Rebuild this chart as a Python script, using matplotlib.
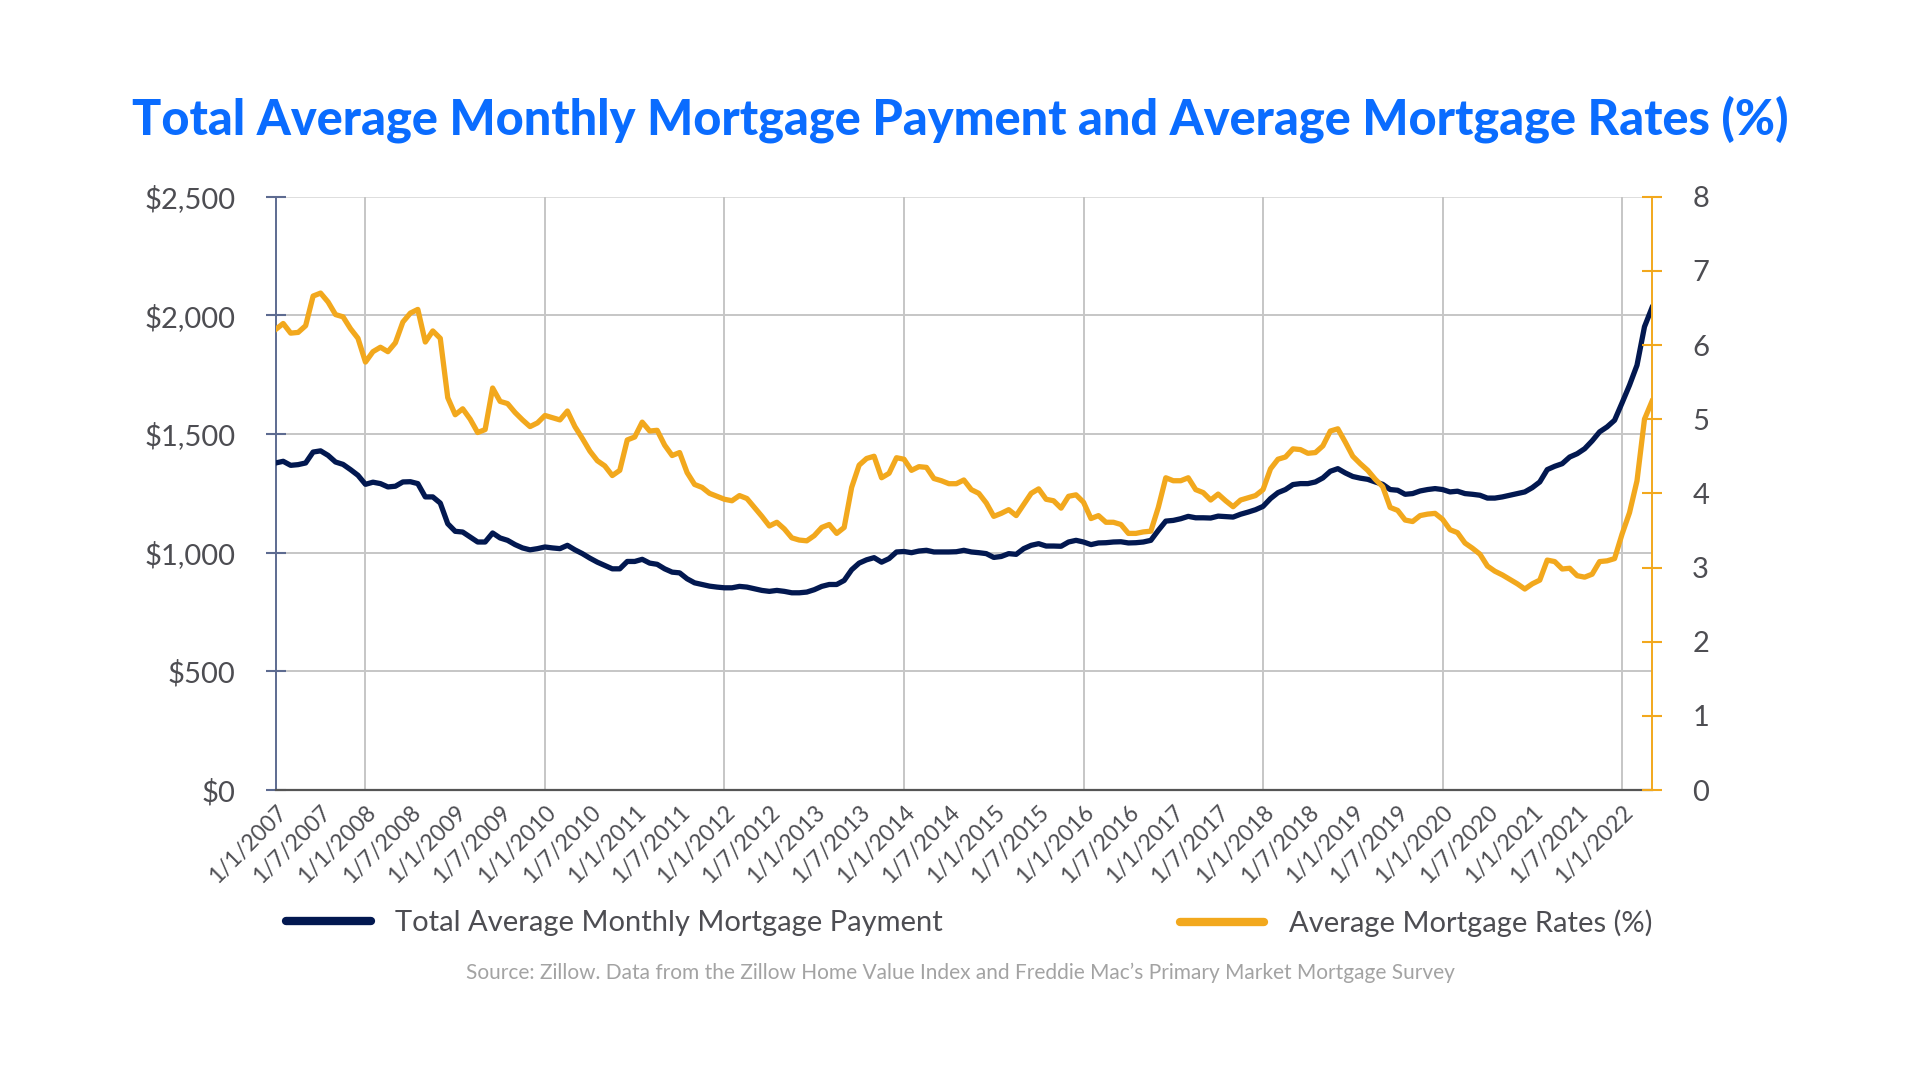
import matplotlib.pyplot as plt
import numpy as np

plt.rcParams['font.family'] = ['Lato', 'DejaVu Sans']

# monthly values, Jan 2007 .. May 2022
payment = [1378, 1385, 1368, 1371, 1378, 1424, 1429, 1410, 1382, 1372, 1350, 1326,
           1288, 1297, 1291, 1277, 1280, 1298, 1299, 1291, 1235, 1235, 1209, 1122,
           1090, 1087, 1066, 1045, 1045, 1083, 1062, 1052, 1034, 1020, 1012, 1017,
           1024, 1020, 1017, 1031, 1012, 996, 977, 960, 946, 932, 932, 963,
           963, 972, 956, 951, 932, 918, 915, 890, 873, 866, 859, 855,
           852, 852, 858, 855, 848, 841, 837, 841, 837, 831, 831, 834,
           844, 858, 866, 866, 883, 928, 956, 970, 979, 960, 975, 1003,
           1005, 1000, 1007, 1010, 1003, 1003, 1003, 1004, 1010, 1003, 1000, 996,
           980, 984, 996, 993, 1017, 1031, 1038, 1028, 1028, 1027, 1045, 1052,
           1045, 1034, 1041, 1042, 1045, 1046, 1041, 1042, 1045, 1052, 1094, 1133,
           1136, 1143, 1153, 1147, 1147, 1146, 1154, 1152, 1150, 1162, 1171, 1181,
           1195, 1228, 1253, 1266, 1287, 1291, 1291, 1298, 1315, 1343, 1354, 1336,
           1321, 1314, 1309, 1298, 1288, 1266, 1263, 1246, 1249, 1260, 1266, 1270,
           1266, 1256, 1259, 1249, 1246, 1242, 1230, 1230, 1235, 1242, 1249, 1256,
           1274, 1298, 1350, 1364, 1375, 1403, 1417, 1438, 1471, 1509, 1530, 1558,
           1631, 1706, 1790, 1952, 2032]

rates = [6.21, 6.29, 6.16, 6.17, 6.26, 6.66, 6.70, 6.58, 6.41, 6.38, 6.22, 6.09,
         5.77, 5.91, 5.97, 5.91, 6.03, 6.31, 6.43, 6.48, 6.04, 6.19, 6.09, 5.29,
         5.06, 5.14, 5.00, 4.82, 4.86, 5.42, 5.24, 5.21, 5.09, 4.99, 4.90, 4.95,
         5.05, 5.02, 4.99, 5.11, 4.90, 4.74, 4.57, 4.44, 4.37, 4.24, 4.31, 4.72,
         4.76, 4.96, 4.84, 4.85, 4.65, 4.51, 4.55, 4.28, 4.12, 4.08, 4.00, 3.96,
         3.92, 3.90, 3.97, 3.93, 3.81, 3.69, 3.56, 3.61, 3.52, 3.40, 3.37, 3.36,
         3.43, 3.54, 3.58, 3.46, 3.54, 4.08, 4.38, 4.47, 4.50, 4.21, 4.27, 4.48,
         4.46, 4.31, 4.36, 4.35, 4.20, 4.17, 4.13, 4.13, 4.18, 4.05, 4.00, 3.87,
         3.69, 3.73, 3.78, 3.70, 3.85, 4.00, 4.06, 3.92, 3.90, 3.80, 3.96, 3.98,
         3.88, 3.66, 3.70, 3.61, 3.61, 3.58, 3.46, 3.46, 3.48, 3.49, 3.81, 4.21,
         4.17, 4.17, 4.21, 4.05, 4.01, 3.91, 3.99, 3.90, 3.82, 3.91, 3.94, 3.97,
         4.05, 4.33, 4.46, 4.49, 4.60, 4.59, 4.54, 4.55, 4.64, 4.84, 4.87, 4.69,
         4.50, 4.40, 4.31, 4.19, 4.09, 3.81, 3.77, 3.64, 3.62, 3.70, 3.72, 3.73,
         3.65, 3.51, 3.47, 3.33, 3.26, 3.18, 3.02, 2.95, 2.90, 2.84, 2.78, 2.71,
         2.78, 2.83, 3.10, 3.08, 2.98, 2.99, 2.89, 2.87, 2.91, 3.08, 3.09, 3.12,
         3.45, 3.74, 4.17, 5.00, 5.24]

tick_labels = ['1/%d/%d' % (m, y) for y in range(2007, 2023) for m in (1, 7)][:31]

navy = '#021850'
orange = '#f2a81d'
text_col = '#4d4d52'

fig = plt.figure(figsize=(19.2, 10.8), dpi=100)
ax = fig.add_axes([0.1436, 0.2685, 0.7168, 0.5494])
ax2 = ax.twinx()

x = np.arange(len(payment))
ax.plot(x, payment, color=navy, lw=3.8, zorder=3, solid_joinstyle='round')
ax2.plot(x, rates, color=orange, lw=3.8, zorder=3, solid_joinstyle='round')

ax.set_xlim(0, len(payment) - 1)
ax.set_ylim(0, 2500)
ax2.set_ylim(0, 8)

# grid
for v in range(500, 2501, 500):
    ax.axhline(v, color='#c6c6c6' if v < 2500 else '#dedede', lw=1.4, zorder=1)
for xv in range(12, len(payment), 24):
    ax.axvline(xv, color='#c6c6c6', lw=1.4, zorder=1)

ax.set_xticks(np.arange(0, 6 * len(tick_labels), 6))
ax.set_xticklabels(tick_labels, rotation=45, ha='right', rotation_mode='anchor',
                   fontsize=16.5, color=text_col)
ax.tick_params(axis='x', length=0, pad=8)

ax.set_yticks(range(0, 2501, 500))
ax.set_yticklabels(['$0', '$500', '$1,000', '$1,500', '$2,000', '$2,500'])
ax.tick_params(axis='y', direction='inout', length=14, width=1.5, color='#5d6b90',
               labelsize=21, labelcolor=text_col, pad=22)
ax2.set_yticks(range(0, 9))
ax2.tick_params(axis='y', direction='inout', length=14, width=1.5, color=orange,
                labelsize=21, labelcolor=text_col, pad=22)

for a in (ax, ax2):
    for s in a.spines.values():
        s.set_visible(False)
ax.spines['left'].set_visible(True)
ax.spines['left'].set_color('#5d6b90')
ax.spines['left'].set_linewidth(1.4)
ax.spines['bottom'].set_visible(True)
ax.spines['bottom'].set_color('#555555')
ax.spines['bottom'].set_linewidth(1.6)
ax2.spines['right'].set_visible(True)
ax2.spines['right'].set_color(orange)
ax2.spines['right'].set_linewidth(1.4)

fig.text(0.5, 0.89, 'Total Average Monthly Mortgage Payment and Average Mortgage Rates (%)',
         ha='center', va='center', fontsize=35, fontweight=900, color='#0a6cff')

h1, = ax.plot([], [], color=navy, lw=6, solid_capstyle='round')
h2, = ax.plot([], [], color=orange, lw=6, solid_capstyle='round')
fig.legend([h1], ['Total Average Monthly Mortgage Payment'], loc='center left',
           bbox_to_anchor=(0.1353, 0.145), frameon=False, fontsize=21, handlelength=2.9,
           handletextpad=0.85, labelcolor=text_col)
fig.legend([h2], ['Average Mortgage Rates (%)'], loc='center right',
           bbox_to_anchor=(0.8743, 0.145), frameon=False, fontsize=21, handlelength=2.9,
           handletextpad=0.85, labelcolor=text_col)

fig.text(0.5, 0.099, "Source: Zillow. Data from the Zillow Home Value Index and Freddie Mac\u2019s Primary Market Mortgage Survey",
         ha='center', va='center', fontsize=15, color='#a3a3a3')

fig.savefig('out.png', dpi=100)
